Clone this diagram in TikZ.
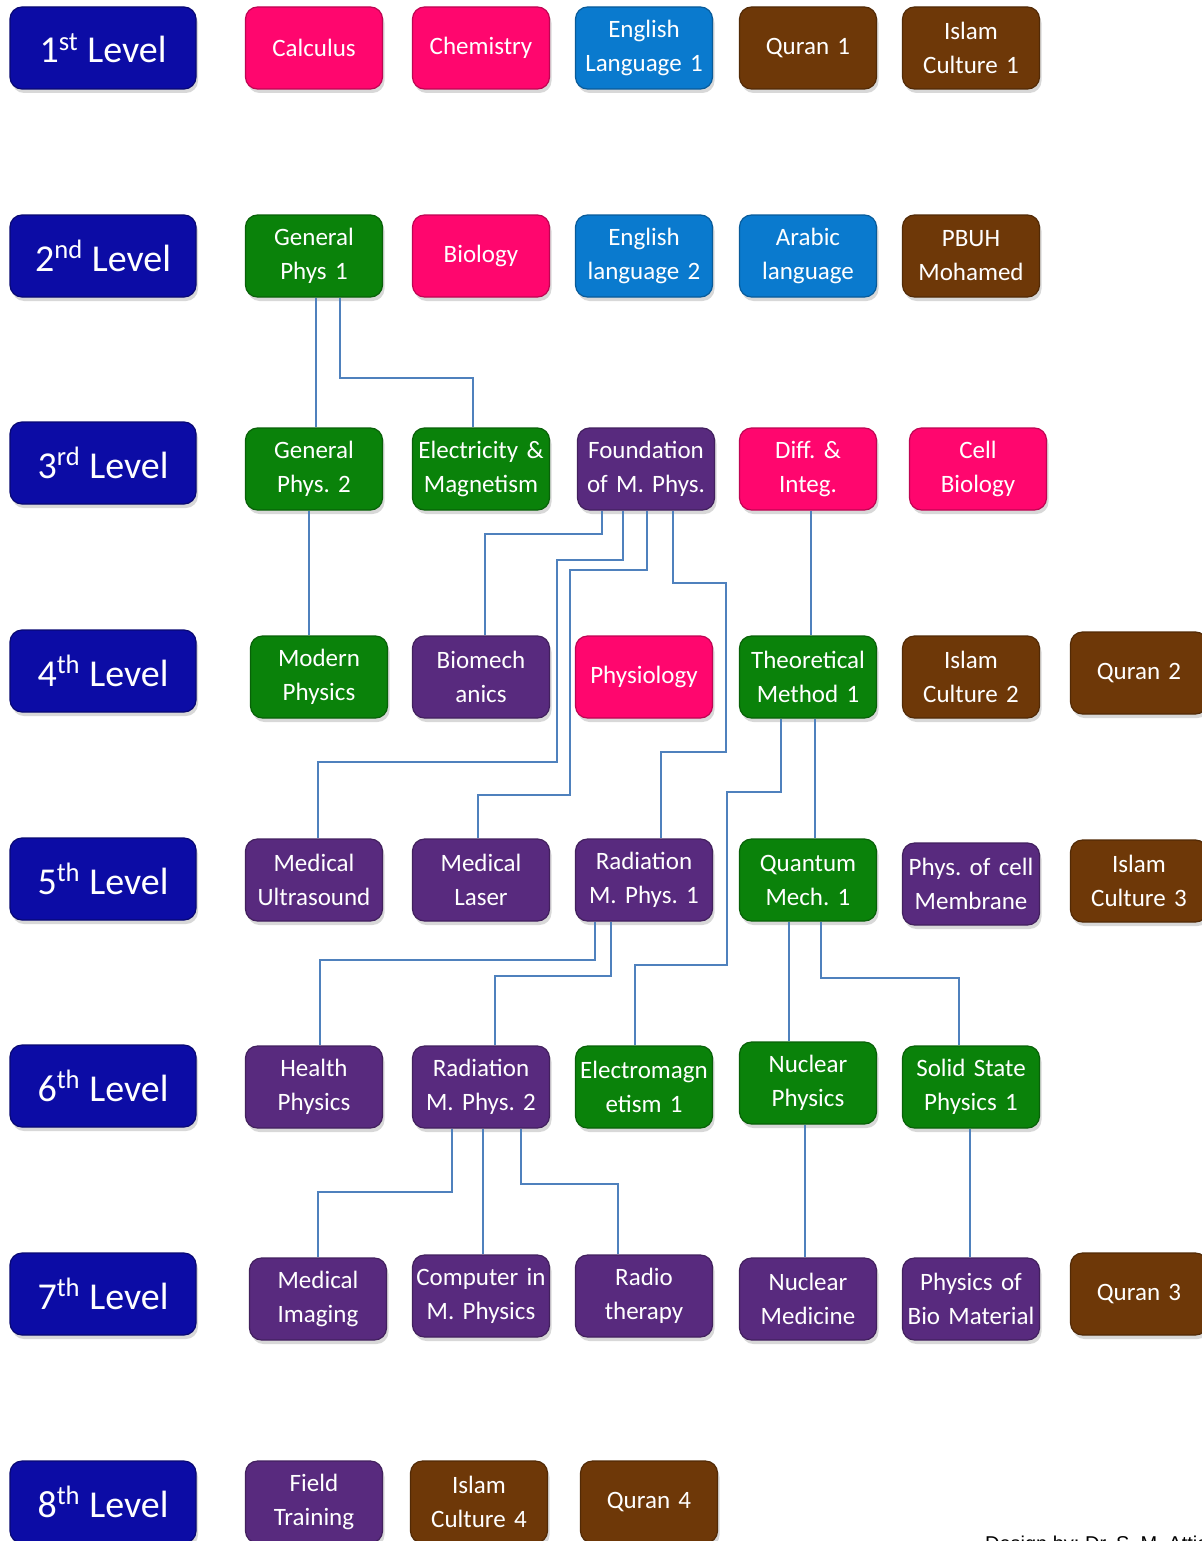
\documentclass[tikz,border=0pt]{standalone}
\usepackage{fontspec}
\setmainfont{Carlito}
\newfontfamily\credfont{Liberation Sans}
\usetikzlibrary{shadows}
\frenchspacing

\definecolor{lvlblue}{RGB}{12,12,165}
\definecolor{pinkc}{RGB}{255,6,110}
\definecolor{bluec}{RGB}{10,122,206}
\definecolor{brownc}{RGB}{110,56,8}
\definecolor{greenc}{RGB}{10,130,10}
\definecolor{purplec}{RGB}{88,42,126}
\definecolor{linkc}{RGB}{79,129,189}

\newcommand\coursefont{\fontsize{12.5}{17}\selectfont\spaceskip=0.17em plus 0.05em minus 0.02em\relax}

\begin{document}
\begin{tikzpicture}[
    x=0.5pt, y=-0.5pt,
    basebox/.style={rounded corners=6pt, align=center, text=white, line width=0.6pt,
        drop shadow={shadow xshift=1pt, shadow yshift=-2pt, opacity=0.3}},
    lvl/.style={basebox, fill=lvlblue, draw=lvlblue!70!black, minimum width=93pt, minimum height=41pt,
        font=\fontsize{19}{22}\selectfont},
    course/.style={basebox, fill=#1, draw=#1!75!black, minimum width=68.5pt, minimum height=41pt,
        text width=67pt, inner xsep=0pt, font=\coursefont},
    link/.style={draw=linkc, line width=1pt}
]
\useasboundingbox (0,0) rectangle (1202,1541);
\fill[white] (0,0) rectangle (1202,1541);

\node[lvl] (l1) at (103,48) {1\textsuperscript{st} Level};
\node[lvl] (l2) at (103,256) {2\textsuperscript{nd} Level};
\node[lvl] (l3) at (103,463) {3\textsuperscript{rd} Level};
\node[lvl] (l4) at (103,671) {4\textsuperscript{th} Level};
\node[lvl] (l5) at (103,879) {5\textsuperscript{th} Level};
\node[lvl] (l6) at (103,1086) {6\textsuperscript{th} Level};
\node[lvl] (l7) at (103,1294) {7\textsuperscript{th} Level};
\node[lvl] (l8) at (103,1502) {8\textsuperscript{th} Level};

\node[course=pinkc] (calc) at (314,48) {Calculus};
\node[course=pinkc] (chem) at (481,48) {Chemistry};
\node[course=bluec] (eng1) at (644,48) {English\\Language 1};
\node[course=brownc] (qur1) at (808,48) {Quran 1};
\node[course=brownc] (isl1) at (971,48) {Islam\\Culture 1};

\node[course=greenc] (gp1) at (314,256) {General\\Phys 1};
\node[course=pinkc] (biol) at (481,256) {Biology};
\node[course=bluec] (eng2) at (644,256) {English\\language 2};
\node[course=bluec] (arab) at (808,256) {Arabic\\language};
\node[course=brownc] (pbuh) at (971,256) {PBUH\\Mohamed};

\node[course=greenc] (gp2) at (314,469) {General\\Phys. 2};
\node[course=greenc] (elm) at (481,469) {Electricity \&\\Magnetism};
\node[course=purplec] (fnd) at (646,469) {Foundation\\of M. Phys.};
\node[course=pinkc] (dif) at (808,469) {Diff. \&\\Integ.};
\node[course=pinkc] (cell) at (978,469) {Cell\\Biology};

\node[course=greenc] (mod) at (319,677) {Modern\\Physics};
\node[course=purplec] (bio) at (481,677) {Biomech\\anics};
\node[course=pinkc] (phy) at (644,677) {Physiology};
\node[course=greenc] (thm) at (808,677) {Theoretical\\Method 1};
\node[course=brownc] (isl2) at (971,677) {Islam\\Culture 2};
\node[course=brownc] (qur2) at (1139,673) {Quran 2};

\node[course=purplec] (mus) at (314,880) {Medical\\Ultrasound};
\node[course=purplec] (mlas) at (481,880) {Medical\\Laser};
\node[course=purplec] (rad1) at (644,880) {Radiation\\M. Phys. 1};
\node[course=greenc] (qm1) at (808,880) {Quantum\\Mech. 1};
\node[course=purplec] (mem) at (971,884) {Phys. of cell\\Membrane};
\node[course=brownc] (isl3) at (1139,881) {Islam\\Culture 3};

\node[course=purplec] (hp) at (314,1087) {Health\\Physics};
\node[course=purplec] (rad2) at (481,1087) {Radiation\\M. Phys. 2};
\node[course=greenc] (em1) at (644,1087) {Electromagn\\etism 1};
\node[course=greenc] (nuc) at (808,1083) {Nuclear\\Physics};
\node[course=greenc] (ss1) at (971,1087) {Solid State\\Physics 1};

\node[course=purplec] (mim) at (318,1299) {Medical\\Imaging};
\node[course=purplec] (cmp) at (481,1296) {Computer in\\M. Physics};
\node[course=purplec] (rth) at (644,1296) {Radio\\therapy};
\node[course=purplec] (nmed) at (808,1299) {Nuclear\\Medicine};
\node[course=purplec] (bmat) at (971,1299) {Physics of\\Bio Material};
\node[course=brownc] (qur3) at (1139,1294) {Quran 3};

\node[course=purplec] (fld) at (314,1502) {Field\\Training};
\node[course=brownc] (isl4) at (479,1502) {Islam\\Culture 4};
\node[course=brownc] (qur4) at (649,1502) {Quran 4};

\node[anchor=base west, font=\credfont\fontsize{10}{12}\selectfont] (cred) at (978,1550) {Design by: Dr. S. M. Attia};

\draw[link] (316,0 |- gp1.south) -- (316,0 |- gp2.north);
\draw[link] (340,0 |- gp1.south) |- (473,378) -- (473,0 |- elm.north);
\draw[link] (309,0 |- gp2.south) -- (309,0 |- mod.north);
\draw[link] (602,0 |- fnd.south) |- (485,534) -- (485,0 |- bio.north);
\draw[link] (623,0 |- fnd.south) |- (557,560) |- (318,762) -- (318,0 |- mus.north);
\draw[link] (647,0 |- fnd.south) |- (570,570) |- (478,795) -- (478,0 |- mlas.north);
\draw[link] (673,0 |- fnd.south) |- (726,583) |- (661,752) -- (661,0 |- rad1.north);
\draw[link] (811,0 |- dif.south) -- (811,0 |- thm.north);
\draw[link] (781,0 |- thm.south) |- (727,792) |- (635,965) -- (635,0 |- em1.north);
\draw[link] (815,0 |- thm.south) -- (815,0 |- qm1.north);
\draw[link] (595,0 |- rad1.south) |- (320,960) -- (320,0 |- hp.north);
\draw[link] (611,0 |- rad1.south) |- (495,976) -- (495,0 |- rad2.north);
\draw[link] (789,0 |- qm1.south) -- (789,0 |- nuc.north);
\draw[link] (821,0 |- qm1.south) |- (959,978) -- (959,0 |- ss1.north);
\draw[link] (452,0 |- rad2.south) |- (318,1192) -- (318,0 |- mim.north);
\draw[link] (483,0 |- rad2.south) -- (483,0 |- cmp.north);
\draw[link] (521,0 |- rad2.south) |- (618,1184) -- (618,0 |- rth.north);
\draw[link] (805,0 |- nuc.south) -- (805,0 |- nmed.north);
\draw[link] (970,0 |- ss1.south) -- (970,0 |- bmat.north);
\end{tikzpicture}
\end{document}
